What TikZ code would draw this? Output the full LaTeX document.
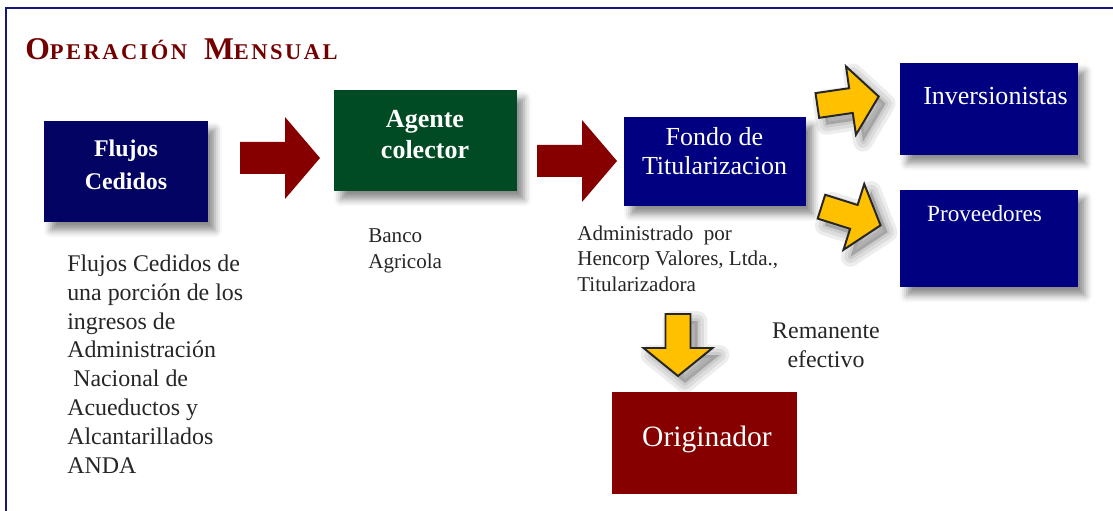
\documentclass[tikz,border=0pt]{standalone}
\usepackage{fontspec}
\setmainfont{Liberation Serif}
\newfontfamily\titlefont[LetterSpace=11]{Liberation Serif}
\usetikzlibrary{shadows.blur}

\definecolor{framenavy}{RGB}{22,22,120}
\definecolor{deepnavy}{RGB}{3,3,100}
\definecolor{boxnavy}{RGB}{0,0,128}
\definecolor{boxgreen}{RGB}{0,75,35}
\definecolor{darkred}{RGB}{134,0,0}
\definecolor{titlered}{RGB}{115,0,0}
\definecolor{arrowyellow}{RGB}{255,192,0}
\definecolor{textgray}{RGB}{38,38,38}

\newcommand{\bigsmall}[2]{{\fontsize{22.5}{22.5}\selectfont #1}{\fontsize{16}{16}\selectfont #2}}
\newcommand{\redarrowpath}{(-40,-16) -- (5,-16) -- (5,-41) -- (40,0) -- (5,41) -- (5,16) -- (-40,16) -- cycle}
\newcommand{\yellowarrowpath}{(-31,-12.5) -- (3,-12.5) -- (3,-34.5) -- (31,0) -- (3,34.5) -- (3,12.5) -- (-31,12.5) -- cycle}

\begin{document}
\begin{tikzpicture}[x=0.025cm, y=-0.025cm,
  flowbox/.style={inner sep=0pt, blur shadow={shadow xshift=5pt, shadow yshift=-6pt, shadow blur radius=5pt, shadow opacity=45}},
  boxlabel/.style={text=white, inner sep=0pt, align=center},
  note/.style={text=textgray, inner sep=0pt, align=left}]
  \useasboundingbox (0,0) rectangle (1113,511);
  \draw[framenavy, line width=2.1pt] (6,511) -- (6,8) -- (1113,8);

  \node[anchor=base west, inner sep=0pt, text=titlered, font=\titlefont\bfseries] (title) at (25,60)
    {\bigsmall{O}{PERACIÓN}\hspace{12pt}\bigsmall{M}{ENSUAL}};

  % boxes
  \node[flowbox, fill=deepnavy, minimum width=4.1cm, minimum height=2.525cm] (flujos) at (126,171.5) {};
  \node[flowbox, fill=boxgreen, minimum width=4.575cm, minimum height=2.525cm] (agente) at (425.5,140.5) {};
  \node[flowbox, fill=boxnavy, minimum width=4.55cm, minimum height=2.225cm] (fondo) at (715,161.5) {};
  \node[flowbox, fill=boxnavy, minimum width=4.45cm, minimum height=2.3cm] (inversion) at (989,109) {};
  \node[flowbox, fill=boxnavy, minimum width=4.45cm, minimum height=2.425cm] (proveedor) at (989,238.5) {};
  \node[inner sep=0pt, fill=darkred, minimum width=4.625cm, minimum height=2.55cm] (origen) at (704.5,443) {};

  \node[boxlabel, anchor=north, font=\bfseries\fontsize{17}{23.5}\selectfont] (flujoslbl) at (126,140) {Flujos\\Cedidos};
  \node[boxlabel, anchor=north, font=\bfseries\fontsize{18.5}{22}\selectfont] (agentelbl) at (425,110) {Agente\\colector};
  \node[boxlabel, anchor=north, font=\fontsize{18.5}{20.6}\selectfont] (fondolbl) at (714.5,127.5) {Fondo de\\Titularizacion};
  \node[boxlabel, anchor=base, font=\fontsize{18.5}{20}\selectfont] (inversionlbl) at (995.5,105) {Inversionistas};
  \node[boxlabel, anchor=base, font=\fontsize{16.5}{18}\selectfont] (proveedorlbl) at (984.5,222) {Proveedores};
  \node[boxlabel, anchor=base, font=\fontsize{21}{24}\selectfont] (origenlbl) at (707,446) {Originador};

  % notes
  \node[note, anchor=north west, font=\fontsize{17}{20.5}\selectfont] (flujosnote) at (67,254.5)
    {Flujos Cedidos de\\una porción de los\\ingresos de\\Administración\\\ Nacional de\\Acueductos y\\Alcantarillados\\ANDA};
  \node[note, anchor=north west, font=\fontsize{15}{18.5}\selectfont] (banconote) at (368,228) {Banco\\Agricola};
  \node[note, anchor=north west, font=\fontsize{15}{18.1}\selectfont] (adminnote) at (577,225.5)
    {Administrado\ \ por\\Hencorp Valores, Ltda.,\\Titularizadora};
  \node[note, anchor=north, align=center, font=\fontsize{17}{20.6}\selectfont] (remnote) at (826,322.5) {Remanente\\efectivo};

  % arrows
  \coordinate (rarr1) at (280,158);
  \coordinate (rarr2) at (577,161);
  \coordinate (yarr1) at (848,101);
  \coordinate (yarr2) at (851,216);
  \coordinate (yarr3) at (678,345);
  \foreach \pos in {rarr1, rarr2}
    \fill[darkred, shift={(\pos)}] \redarrowpath;
  \foreach \pos/\ang in {yarr1/8.3, yarr2/-17.5, yarr3/-90} {
    \foreach \w in {14,9,4}
      \filldraw[black, opacity=0.07, line width=\w pt, line join=round, shift={(\pos)}, xshift=5pt, yshift=-5pt, rotate=\ang] \yellowarrowpath;
    \filldraw[fill=arrowyellow, draw=black!85, line width=1.4pt, shift={(\pos)}, rotate=\ang] \yellowarrowpath;
  }
\end{tikzpicture}
\end{document}
